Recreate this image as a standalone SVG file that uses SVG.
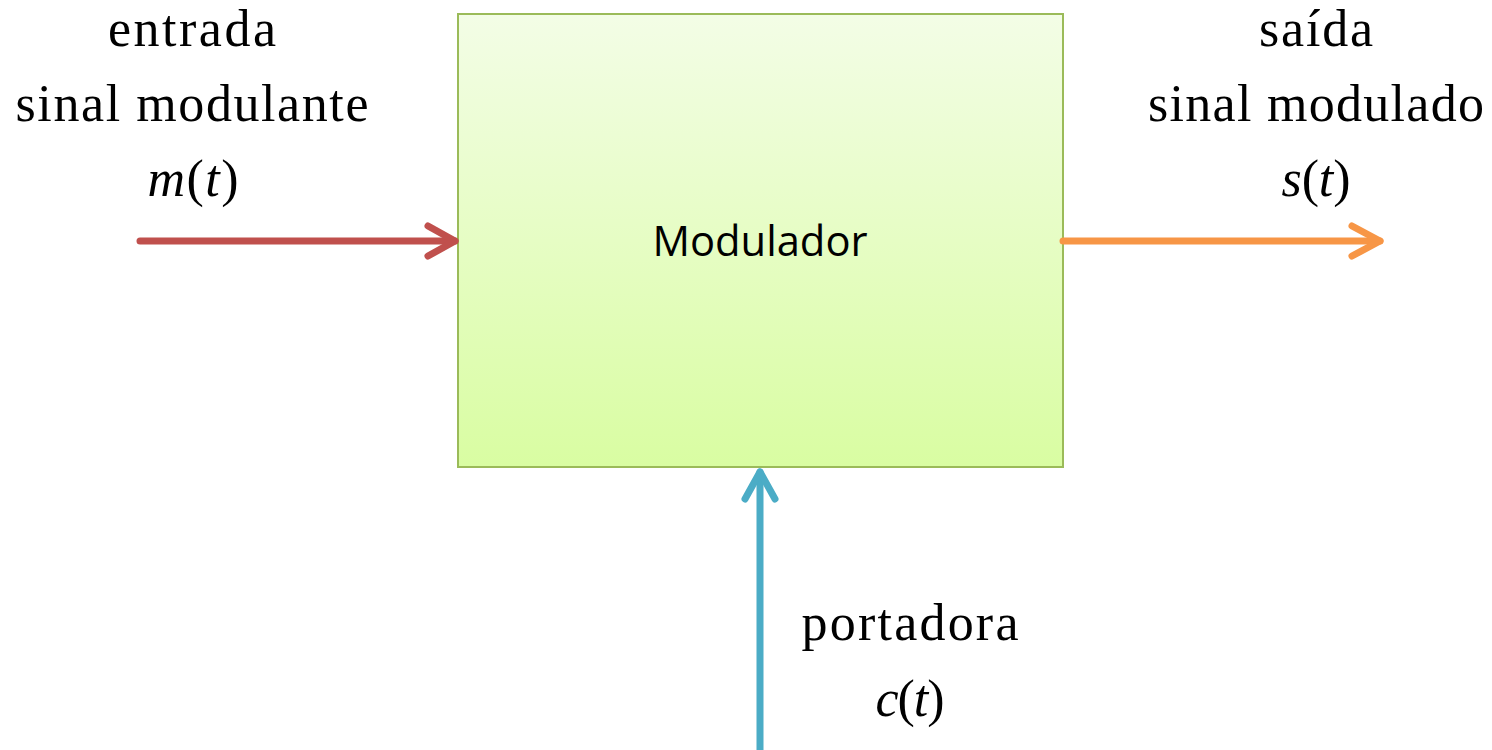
<svg xmlns="http://www.w3.org/2000/svg" width="1492" height="750" viewBox="0 0 1492 750">
<defs>
<linearGradient id="g" x1="0" y1="0" x2="0" y2="1">
<stop offset="0" stop-color="#F3FDE6"/>
<stop offset="1" stop-color="#D9FDA2"/>
</linearGradient>
</defs>
<style>
.lbl{font-family:"Liberation Serif","DejaVu Serif",serif;font-size:52px;fill:#000;text-anchor:middle}
.it{font-style:italic}
.box{font-family:"Open Sans","Liberation Sans",sans-serif;font-size:42px;fill:#000;text-anchor:middle}
.ln{fill:none;stroke-width:7;stroke-linecap:round;stroke-linejoin:round}
</style>
<rect width="1492" height="750" fill="#fff"/>
<g id="modulador">
<rect x="458" y="14" width="605" height="453" fill="url(#g)" stroke="#9BBB59" stroke-width="2"/>
<text class="box" x="760" y="256" textLength="215" lengthAdjust="spacingAndGlyphs">Modulador</text>
</g>
<g id="connectors">
<g id="in-arrow">
<path class="ln" stroke="#C0504D" d="M140 241H455"/>
<path class="ln" stroke="#C0504D" d="M428 226L455 241L428 256"/>
</g>
<g id="out-arrow">
<path class="ln" stroke="#F79646" d="M1063 241H1380"/>
<path class="ln" stroke="#F79646" d="M1352 226L1380 241L1352 256"/>
</g>
<g id="carrier-arrow">
<path class="ln" stroke="#4BACC6" d="M760 750V472"/>
<path class="ln" stroke="#4BACC6" d="M745 499L760 472L775 499"/>
</g>
</g>
<g id="input-label">
<text class="lbl" x="192" y="46" textLength="168" lengthAdjust="spacing">entrada</text>
<text class="lbl" x="192" y="121" textLength="353" lengthAdjust="spacing">sinal modulante</text>
<text class="lbl" x="193" y="196" textLength="91" lengthAdjust="spacing"><tspan class="it">m</tspan>(<tspan class="it">t</tspan>)</text>
</g>
<g id="output-label">
<text class="lbl" x="1316" y="46" textLength="114" lengthAdjust="spacing">saída</text>
<text class="lbl" x="1316" y="121" textLength="336" lengthAdjust="spacing">sinal modulado</text>
<text class="lbl" x="1316" y="196" textLength="69" lengthAdjust="spacing"><tspan class="it">s</tspan>(<tspan class="it">t</tspan>)</text>
</g>
<g id="carrier-label">
<text class="lbl" x="910" y="640" textLength="217" lengthAdjust="spacing">portadora</text>
<text class="lbl" x="910" y="716" textLength="69" lengthAdjust="spacing"><tspan class="it">c</tspan>(<tspan class="it">t</tspan>)</text>
</g>
</svg>
